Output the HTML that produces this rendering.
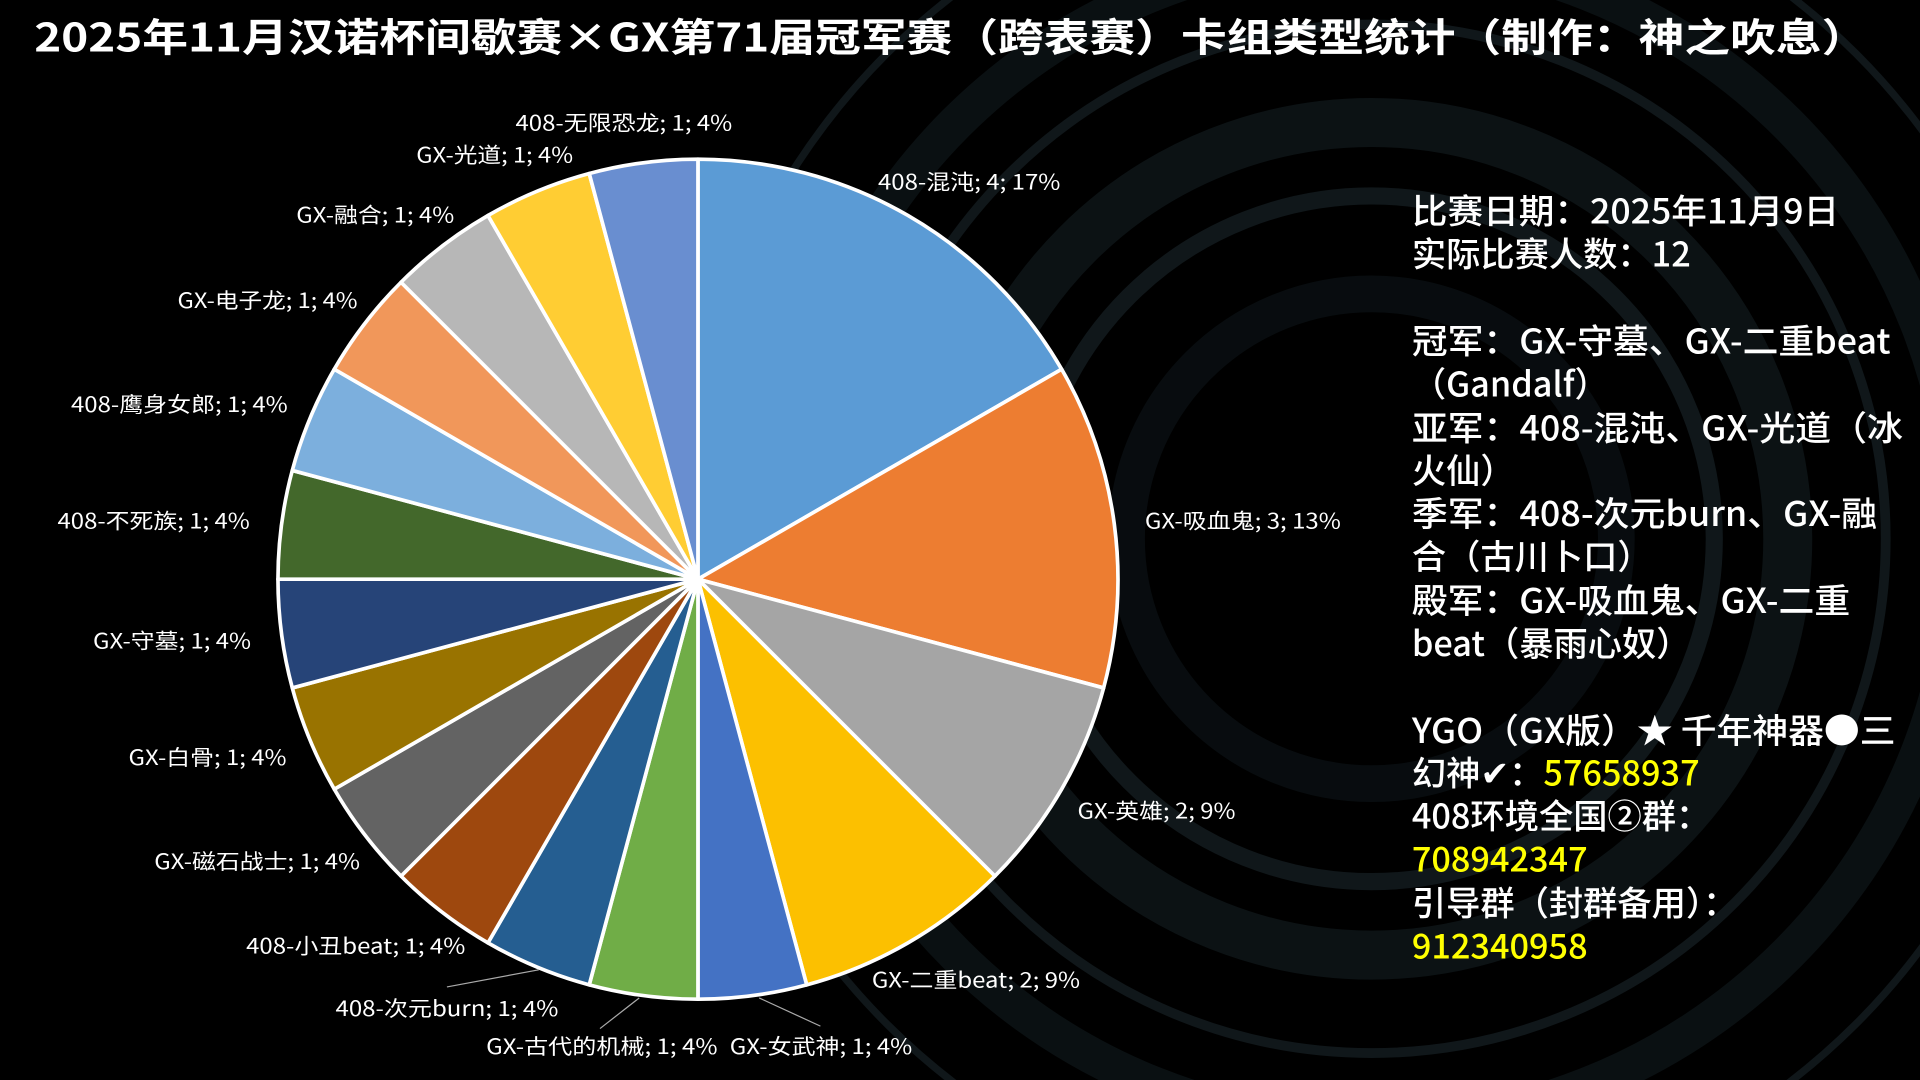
<!DOCTYPE html>
<html><head><meta charset="utf-8"><style>
html,body{margin:0;padding:0;background:#000;overflow:hidden;width:1920px;height:1080px;}
svg{display:block;}
text{font-family:"Liberation Sans","Noto Sans CJK SC",sans-serif;fill:#fff;}
.t{font-family:"Noto Sans CJK SC",sans-serif;}
.l{font-size:17px;font-family:"Noto Sans CJK SC",sans-serif;}
.r{font-size:28px;font-family:"Noto Sans CJK SC",sans-serif;font-weight:500;}
.y{fill:#ffff00;}
</style></head><body>
<svg width="1920" height="1080" viewBox="0 0 1568 882" xmlns="http://www.w3.org/2000/svg">
<rect width="1568" height="882" fill="#000"/>
<g fill="none" stroke="#141d21" opacity="0.8">
<circle cx="1120" cy="440" r="200" stroke-width="30" stroke="#0a1013"/>
<circle cx="1120" cy="440" r="280" stroke-width="14"/>
<circle cx="1120" cy="440" r="340" stroke-width="40" stroke="#0f171a"/>
<circle cx="1120" cy="440" r="420" stroke-width="8"/>
<circle cx="1120" cy="440" r="480" stroke-width="30" stroke="#0d1417"/>
<circle cx="1120" cy="440" r="560" stroke-width="6"/>
</g>
<text class="t" x="28" y="42" font-size="32" font-weight="bold" textLength="1497" lengthAdjust="spacingAndGlyphs">2025年11月汉诺杯间歇赛×GX第71届冠军赛（跨表赛）卡组类型统计（制作：神之吹息）</text>
<g stroke="#fff" stroke-width="3" stroke-linejoin="round">
<path d="M570 473L570 130A343 343 0 0 1 867 301.5Z" fill="#5b9bd5"/>
<path d="M570 473L867 301.5A343 343 0 0 1 901.3 561.8Z" fill="#ed7d31"/>
<path d="M570 473L901.3 561.8A343 343 0 0 1 812.5 715.5Z" fill="#a5a5a5"/>
<path d="M570 473L812.5 715.5A343 343 0 0 1 658.8 804.3Z" fill="#fcc000"/>
<path d="M570 473L658.8 804.3A343 343 0 0 1 570 816Z" fill="#4472c4"/>
<path d="M570 473L570 816A343 343 0 0 1 481.2 804.3Z" fill="#70ad47"/>
<path d="M570 473L481.2 804.3A343 343 0 0 1 398.5 770Z" fill="#255e91"/>
<path d="M570 473L398.5 770A343 343 0 0 1 327.5 715.5Z" fill="#9e480e"/>
<path d="M570 473L327.5 715.5A343 343 0 0 1 273 644.5Z" fill="#636363"/>
<path d="M570 473L273 644.5A343 343 0 0 1 238.7 561.8Z" fill="#997300"/>
<path d="M570 473L238.7 561.8A343 343 0 0 1 227 473Z" fill="#264478"/>
<path d="M570 473L227 473A343 343 0 0 1 238.7 384.2Z" fill="#43682b"/>
<path d="M570 473L238.7 384.2A343 343 0 0 1 273 301.5Z" fill="#7cafdd"/>
<path d="M570 473L273 301.5A343 343 0 0 1 327.5 230.5Z" fill="#f1975a"/>
<path d="M570 473L327.5 230.5A343 343 0 0 1 398.5 176Z" fill="#b7b7b7"/>
<path d="M570 473L398.5 176A343 343 0 0 1 481.2 141.7Z" fill="#ffcd33"/>
<path d="M570 473L481.2 141.7A343 343 0 0 1 570 130Z" fill="#698ed0"/>
</g>
<g stroke="#aaa" stroke-width="1" fill="none">
<path d="M365 806L440 792"/><path d="M490 840L522 815"/><path d="M670 838L620 815"/>
</g>
<g dominant-baseline="middle">
<text class="l" x="421" y="102" textLength="177" lengthAdjust="spacingAndGlyphs">408-无限恐龙; 1; 4%</text>
<text class="l" x="340" y="128" textLength="128" lengthAdjust="spacingAndGlyphs">GX-光道; 1; 4%</text>
<text class="l" x="242" y="177" textLength="129" lengthAdjust="spacingAndGlyphs">GX-融合; 1; 4%</text>
<text class="l" x="145" y="247" textLength="147" lengthAdjust="spacingAndGlyphs">GX-电子龙; 1; 4%</text>
<text class="l" x="58" y="332" textLength="177" lengthAdjust="spacingAndGlyphs">408-鹰身女郎; 1; 4%</text>
<text class="l" x="47" y="427" textLength="157" lengthAdjust="spacingAndGlyphs">408-不死族; 1; 4%</text>
<text class="l" x="76" y="525" textLength="129" lengthAdjust="spacingAndGlyphs">GX-守墓; 1; 4%</text>
<text class="l" x="105" y="620" textLength="129" lengthAdjust="spacingAndGlyphs">GX-白骨; 1; 4%</text>
<text class="l" x="126" y="705" textLength="168" lengthAdjust="spacingAndGlyphs">GX-磁石战士; 1; 4%</text>
<text class="l" x="201" y="774" textLength="179" lengthAdjust="spacingAndGlyphs">408-小丑beat; 1; 4%</text>
<text class="l" x="274" y="825" textLength="182" lengthAdjust="spacingAndGlyphs">408-次元burn; 1; 4%</text>
<text class="l" x="397" y="856" textLength="189" lengthAdjust="spacingAndGlyphs">GX-古代的机械; 1; 4%</text>
<text class="l" x="596" y="856" textLength="149" lengthAdjust="spacingAndGlyphs">GX-女武神; 1; 4%</text>
<text class="l" x="712" y="802" textLength="170" lengthAdjust="spacingAndGlyphs">GX-二重beat; 2; 9%</text>
<text class="l" x="880" y="664" textLength="129" lengthAdjust="spacingAndGlyphs">GX-英雄; 2; 9%</text>
<text class="l" x="935" y="427" textLength="160" lengthAdjust="spacingAndGlyphs">GX-吸血鬼; 3; 13%</text>
<text class="l" x="717" y="150" textLength="149" lengthAdjust="spacingAndGlyphs">408-混沌; 4; 17%</text>
</g>
<g dominant-baseline="middle">
<text class="r" x="1153" y="175" textLength="349" lengthAdjust="spacingAndGlyphs">比赛日期：2025年11月9日</text>
<text class="r" x="1153" y="210">实际比赛人数：12</text>
<text class="r" x="1153" y="281" textLength="391" lengthAdjust="spacingAndGlyphs">冠军：GX-守墓、GX-二重beat</text>
<text class="r" x="1153" y="316">（Gandalf）</text>
<text class="r" x="1153" y="352" textLength="401" lengthAdjust="spacingAndGlyphs">亚军：408-混沌、GX-光道（冰</text>
<text class="r" x="1153" y="387">火仙）</text>
<text class="r" x="1153" y="422" textLength="380" lengthAdjust="spacingAndGlyphs">季军：408-次元burn、GX-融</text>
<text class="r" x="1153" y="457">合（古川卜口）</text>
<text class="r" x="1153" y="493" textLength="358" lengthAdjust="spacingAndGlyphs">殿军：GX-吸血鬼、GX-二重</text>
<text class="r" x="1153" y="528">beat（暴雨心奴）</text>
<text class="r" x="1153" y="599" textLength="395" lengthAdjust="spacingAndGlyphs">YGO（GX版）★ 千年神器●三</text>
<text class="r" x="1153" y="634">幻神✔：<tspan class="y">57658937</tspan></text>
<text class="r" x="1153" y="669">408环境全国②群：</text>
<text class="r y" x="1153" y="704">708942347</text>
<text class="r" x="1153" y="740">引导群（封群备用）：</text>
<text class="r y" x="1153" y="775">912340958</text>
</g>
</svg>
</body></html>
